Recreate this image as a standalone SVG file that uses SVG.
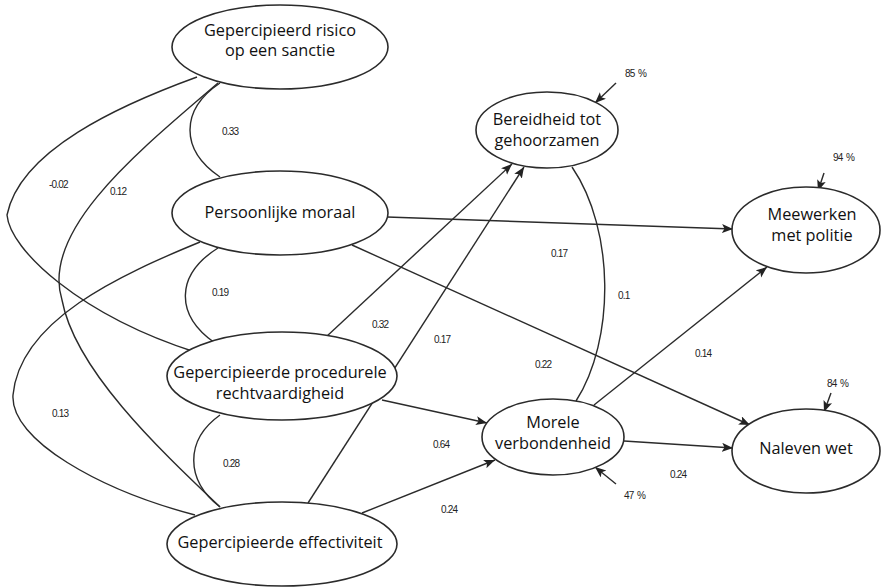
<svg xmlns="http://www.w3.org/2000/svg" width="886" height="587" viewBox="0 0 886 587">
<style>
.node ellipse{fill:#fff;stroke:#2b2b2b;stroke-width:1.6}
.node text{font-family:"Open Sans","Noto Sans",sans-serif;font-size:16.3px;fill:#111;text-anchor:middle}
.edge{fill:none;stroke:#2b2b2b;stroke-width:1.4}
.arr{marker-end:url(#ah)}
.lbl{font-family:"Liberation Sans",sans-serif;font-size:10px;letter-spacing:-0.8px;word-spacing:1.5px;fill:#222}
</style>
<defs>
<marker id="ah" markerUnits="userSpaceOnUse" markerWidth="12" markerHeight="10" refX="11" refY="4.5" orient="auto">
<path d="M0,0 L11,4.5 L0,9 L2.5,4.5 z" fill="#222"/>
</marker>
</defs>
<g id="connectors">
<path class="edge" d="M220,83 C180,110 180,150 220,177"/>
<path class="edge" d="M197,77 C120,105 20,150 7,215 C10,250 80,315 195,352"/>
<path class="edge" d="M218,83 C140,150 40,230 62,300 C75,370 160,450 220,507"/>
<path class="edge" d="M218,248 C175,275 175,315 215,343"/>
<path class="edge" d="M200,242 C120,275 20,320 13,395 C10,440 100,490 195,515"/>
<path class="edge" d="M220,415 C185,440 185,480 220,507"/>
<path class="edge" d="M572,167 C615,230 615,340 576,401"/>
<path class="edge arr" d="M326,337 L512,164"/>
<path class="edge arr" d="M308,503 L524,167"/>
<path class="edge arr" d="M387,217 L733,229"/>
<path class="edge arr" d="M352,245 L750,425"/>
<path class="edge arr" d="M382,400 L487,423"/>
<path class="edge arr" d="M362,513 L495,460"/>
<path class="edge arr" d="M594,405 L767,267"/>
<path class="edge arr" d="M624,441 L733,448"/>
<path class="edge arr" d="M616,83 L595,103"/>
<path class="edge arr" d="M824,173 L818,191"/>
<path class="edge arr" d="M831,393 L824,412"/>
<path class="edge arr" d="M616,484 L595,467"/>
</g>
<g id="labels">
<text class="lbl" x="222" y="135">0.33</text>
<text class="lbl" x="49" y="188">-0.02</text>
<text class="lbl" x="110" y="195">0.12</text>
<text class="lbl" x="212" y="296">0.19</text>
<text class="lbl" x="372" y="328">0.32</text>
<text class="lbl" x="52" y="417">0.13</text>
<text class="lbl" x="223" y="467">0.28</text>
<text class="lbl" x="551" y="257">0.17</text>
<text class="lbl" x="618" y="299">0.1</text>
<text class="lbl" x="434" y="343">0.17</text>
<text class="lbl" x="535" y="368">0.22</text>
<text class="lbl" x="695" y="357">0.14</text>
<text class="lbl" x="433" y="448">0.64</text>
<text class="lbl" x="441" y="513">0.24</text>
<text class="lbl" x="670" y="478">0.24</text>
<text class="lbl" x="625" y="77">85 %</text>
<text class="lbl" x="833" y="161">94 %</text>
<text class="lbl" x="827" y="387">84 %</text>
<text class="lbl" x="624" y="499">47 %</text>
</g>
<g id="risico" class="node"><ellipse cx="280" cy="47" rx="108" ry="42"/><text x="280" y="36">Gepercipieerd risico</text><text x="280" y="56">op een sanctie</text></g>
<g id="moraal" class="node"><ellipse cx="280" cy="213" rx="108" ry="42"/><text x="280" y="218">Persoonlijke moraal</text></g>
<g id="procedurele" class="node"><ellipse cx="282" cy="376" rx="115" ry="44"/><text x="280" y="378">Gepercipieerde procedurele</text><text x="280" y="399">rechtvaardigheid</text></g>
<g id="effectiviteit" class="node"><ellipse cx="282" cy="544" rx="115" ry="42"/><text x="280" y="548">Gepercipieerde effectiviteit</text></g>
<g id="bereidheid" class="node"><ellipse cx="547" cy="130" rx="71" ry="38"/><text x="547" y="125">Bereidheid tot</text><text x="547" y="146">gehoorzamen</text></g>
<g id="meewerken" class="node"><ellipse cx="806" cy="230" rx="74" ry="43"/><text x="812" y="220">Meewerken</text><text x="812" y="241">met politie</text></g>
<g id="morele" class="node"><ellipse cx="553" cy="437" rx="71" ry="38"/><text x="553" y="428">Morele</text><text x="553" y="449">verbondenheid</text></g>
<g id="naleven" class="node"><ellipse cx="806" cy="451" rx="74" ry="42"/><text x="806" y="454">Naleven wet</text></g>
</svg>
